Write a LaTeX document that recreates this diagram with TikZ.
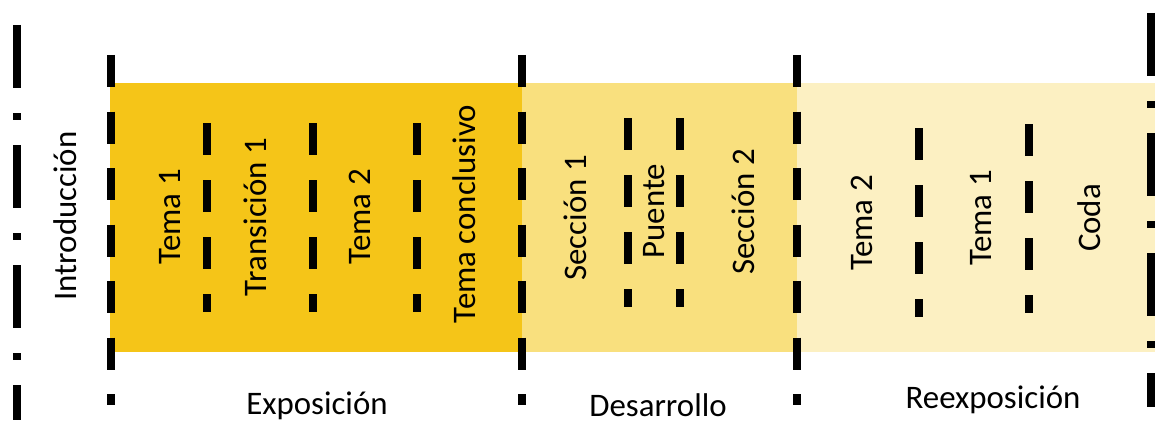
\documentclass[tikz,border=0pt]{standalone}
\usepackage{fontspec}
\setmainfont{Carlito}
\usepackage{xcolor}
\usepackage{tikz}
\usetikzlibrary{positioning}

\definecolor{expoyellow}{HTML}{F5C518}
\definecolor{desayellow}{HTML}{F9E07E}
\definecolor{reexyellow}{HTML}{FCF0C2}

\tikzset{
  formtext/.style={font=\fontsize{33}{40}\selectfont, inner sep=0pt},
  sectext/.style={formtext, rotate=90},
  bigsplit/.style={line width=8bp, dash pattern=on 63bp off 25bp on 7bp off 25bp},
  partsplit/.style={line width=8bp, dash pattern=on 32bp off 24.5bp},
  subsplit/.style={line width=8bp, dash pattern=on 32bp off 25bp}
}

\begin{document}
\begin{tikzpicture}[x=1bp, y=1bp]
  \useasboundingbox (0,0) rectangle (1155,423);

  % ---- Coloured parts ----
  \fill[expoyellow] (110,71) rectangle (522,340);
  \fill[desayellow] (522,71) rectangle (797,340);
  \fill[reexyellow] (797,71) rectangle (1155,340);

  % ---- Outer borders (dash-dot) ----
  \draw[bigsplit] (17,398) -- (17,3);
  \draw[bigsplit] (1151,410) -- (1151,16);

  % ---- Borders between the parts ----
  \foreach \x in {111,522,797} {
    \draw[partsplit] (\x,368) -- (\x,18);
  }

  % ---- Borders inside the parts ----
  \foreach \x in {207,313,417} {
    \draw[subsplit] (\x,300) -- (\x,111);
  }
  \foreach \x in {628,680} {
    \draw[subsplit] (\x,305) -- (\x,116);
  }
  \draw[subsplit] (919,295) -- (919,106);
  \draw[subsplit] (1029,299) -- (1029,110);

  % ---- Section labels ----
  \node[sectext] (intro) at (65,207) {Introducción};
  \node[sectext] (temaA) at (170,206) {Tema 1};
  \node[sectext] (trans) at (255,206) {Transición 1};
  \node[sectext] (temaB) at (360,206) {Tema 2};
  \node[sectext] (concl) at (464,209) {Tema conclusivo};
  \node[sectext] (seccA) at (575,205) {Sección 1};
  \node[sectext] (puente) at (654,212) {Puente};
  \node[sectext] (seccB) at (743,211) {Sección 2};
  \node[sectext] (retemaB) at (862,200) {Tema 2};
  \node[sectext] (retemaA) at (981,205) {Tema 1};
  \node[sectext] (coda) at (1089,205) {Coda};

  % ---- Part labels ----
  \node[formtext] (expo) at (317,17) {Exposición};
  \node[formtext] (desa) at (658,18) {Desarrollo};
  \node[formtext] (reex) at (993,23) {Reexposición};
\end{tikzpicture}
\end{document}
